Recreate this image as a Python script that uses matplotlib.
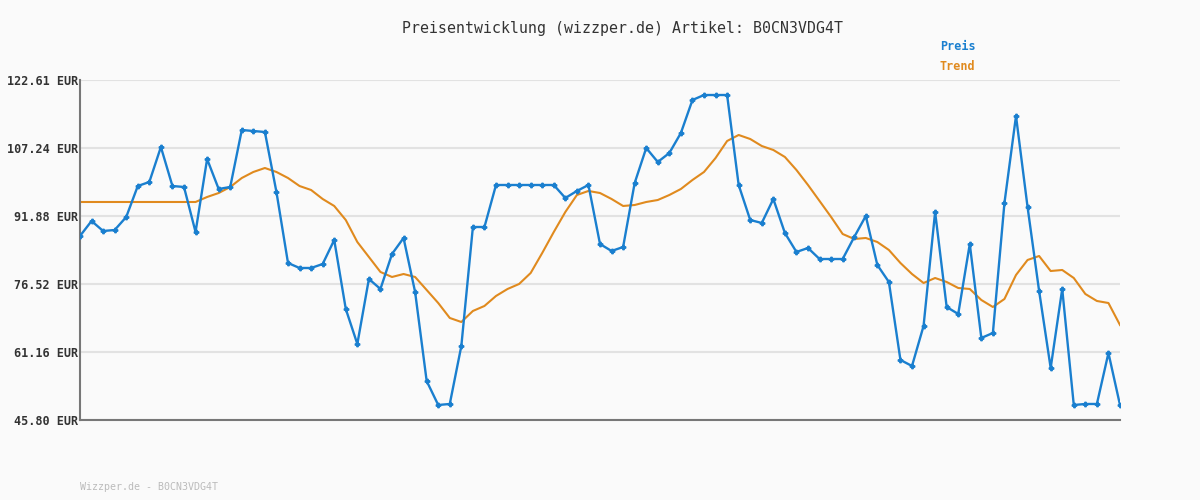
import matplotlib
matplotlib.use("Agg")
import matplotlib.pyplot as plt
import numpy as np

# Preisverlauf (EUR)
preis = [87.37, 90.76, 88.50, 88.72, 91.66, 98.66, 99.57, 107.47, 98.66, 98.44,
         88.27, 104.76, 97.99, 98.44, 111.31, 111.09, 110.86, 97.31, 81.27, 80.14,
         80.14, 81.04, 86.47, 70.88, 62.97, 77.66, 75.40, 83.30, 86.92, 74.72,
         54.61, 49.19, 49.42, 62.52, 89.40, 89.40, 98.89, 98.89, 98.89, 98.89,
         98.89, 98.89, 95.95, 97.54, 98.89, 85.56, 83.98, 84.88, 99.34, 107.25,
         104.09, 106.12, 110.64, 118.09, 119.22, 119.22, 119.22, 98.89, 90.98, 90.31,
         95.73, 88.05, 83.76, 84.66, 82.17, 82.17, 82.17, 87.14, 91.89, 80.82,
         76.98, 59.36, 58.00, 67.04, 92.79, 71.33, 69.75, 85.56, 64.33, 65.46,
         94.82, 114.48, 93.92, 74.95, 57.55, 75.40, 49.19, 49.42, 49.42, 60.94,
         49.19]

trend = [95.05] * 11 + [
         96.18, 97.08, 98.44, 100.47, 101.83, 102.73, 101.83, 100.47, 98.66, 97.76,
         95.73, 94.15, 90.98, 86.01, 82.63, 79.24, 78.11, 78.78, 78.11, 75.17,
         72.23, 68.85, 67.94, 70.43, 71.56, 73.82, 75.40, 76.53, 79.01, 83.53,
         88.27, 92.79, 96.63, 97.54, 97.08, 95.73, 94.15, 94.37, 95.05, 95.50,
         96.63, 97.99, 100.02, 101.83, 104.99, 108.83, 110.19, 109.28, 107.70, 106.80,
         105.22, 102.28, 98.89, 95.28, 91.66, 87.82, 86.69, 86.92, 86.01, 84.21,
         81.27, 78.78, 76.75, 77.88, 76.98, 75.62, 75.40, 72.91, 71.33, 73.14,
         78.56, 81.95, 82.85, 79.46, 79.69, 77.88, 74.27, 72.69, 72.23, 67.26]

yticks = [45.80, 61.16, 76.52, 91.88, 107.24, 122.61]
titel = "Preisentwicklung (wizzper.de) Artikel: B0CN3VDG4T"
blau = "#1a7fcf"
orange = "#e08a1e"
bg = "#fafafa"

fig = plt.figure(figsize=(12, 5), dpi=100, facecolor=bg)
ax = fig.add_axes([80 / 1200, 80 / 500, 1040 / 1200, 340 / 500], facecolor=bg)

x = np.arange(len(preis))
ax.plot(x, trend, color=orange, lw=1.5, zorder=2)
ax.plot(x, preis, color=blau, lw=1.7, marker="P", ms=3.2, zorder=3)

ax.set_xlim(0, len(preis) - 1)
ax.set_ylim(yticks[0], yticks[-1])
ax.set_yticks(yticks)
ax.set_yticklabels([f"{v:.2f} EUR" for v in yticks], family="DejaVu Sans Mono",
                   fontsize=8.5, fontweight="bold", color="#333333")
ax.set_xticks([])
ax.tick_params(axis="y", length=0, pad=1)
ax.grid(axis="y", color="#e2e2e2", lw=1.5)
ax.set_axisbelow(True)
for s in ("top", "right"):
    ax.spines[s].set_visible(False)
for s in ("left", "bottom"):
    ax.spines[s].set_color("#777777")
    ax.spines[s].set_linewidth(1.5)

fig.text(623 / 1200, 1 - 28 / 500, titel, ha="center", va="center", family="DejaVu Sans Mono",
         fontsize=10.7, color="#333333")
fig.text(940 / 1200, 1 - 47 / 500, "Preis", ha="left", va="center", family="DejaVu Sans Mono",
         fontsize=8.5, fontweight="bold", color=blau)
fig.text(940 / 1200, 1 - 67 / 500, "Trend", ha="left", va="center", family="DejaVu Sans Mono",
         fontsize=8.5, fontweight="bold", color=orange)
fig.text(80 / 1200, 1 - 487 / 500, "Wizzper.de - B0CN3VDG4T", ha="left", va="center",
         family="DejaVu Sans Mono", fontsize=7.2, color="#bbbbbb")

fig.savefig("out.png", facecolor=bg)
